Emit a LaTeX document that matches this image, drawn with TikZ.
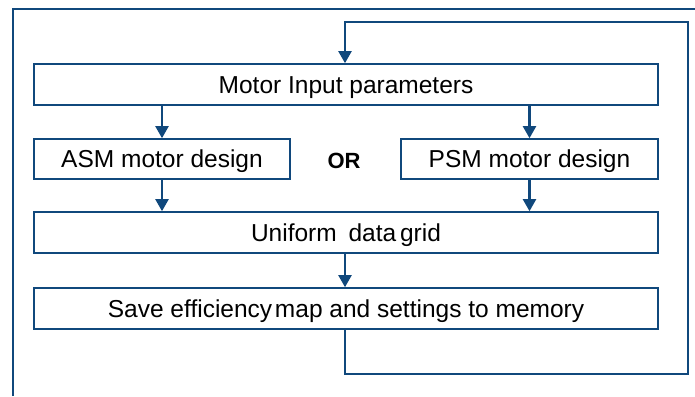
\documentclass[tikz,border=0pt]{standalone}
\usepackage{fontspec}
\setmainfont{Liberation Sans}
\usetikzlibrary{arrows.meta}
\definecolor{dblue}{RGB}{16,72,124}
\tikzset{
  stepbox/.style={draw=dblue, line width=1.6pt, fill=white, inner sep=0pt, text height=17.5pt, text depth=0pt, font=\fontsize{24.5}{28}\selectfont},
  conn/.style={draw=dblue, line width=2.1pt},
  arr/.style={conn, -{Triangle[width=13pt,length=12pt]}},
}
\begin{document}
\begin{tikzpicture}[x=1pt,y=-1pt]
\useasboundingbox (0,0) rectangle (695,396);
% partial outer frame
\draw[conn] (13,396) -- (13,9) -- (695,9);
% boxes
\node[stepbox, minimum width=624pt, minimum height=41pt] (inp) at (346,84.5) {Motor Input parameters};
\node[stepbox, minimum width=256pt, minimum height=40pt] (asm) at (162,159) {ASM motor design};
\node[stepbox, minimum width=257pt, minimum height=40pt] (psm) at (529.5,159) {PSM motor design};
\node[font=\bfseries\fontsize{22}{26}\selectfont, text height=15.8pt, text depth=0pt, inner sep=0pt] (or) at (344,161) {OR};
\node[stepbox, minimum width=624pt, minimum height=41pt] (uni) at (346,232.5) {Uniform\hspace{5pt} data\hspace{-3pt} grid};
\node[stepbox, minimum width=624pt, minimum height=41pt] (sav) at (346,308.5) {Save efficiency\hspace{-4pt} map and settings to memory};
% arrows
\draw[arr] (inp.south -| asm.north) -- (asm.north);
\draw[arr] (inp.south -| psm.north) -- (psm.north);
\draw[arr] (asm.south) -- (asm.south |- uni.north);
\draw[arr] (psm.south) -- (psm.south |- uni.north);
\coordinate (c) at (345,0);
\draw[arr] (uni.south -| c) -- (sav.north -| c);
% feedback loop
\coordinate (lb) at (345,374);
\coordinate (rb) at (688,374);
\coordinate (rt) at (688,22);
\coordinate (lt) at (345,22);
\draw[arr] (sav.south -| c) -- (lb) -- (rb) -- (rt) -- (lt) -- (inp.north -| lt);
\end{tikzpicture}
\end{document}
